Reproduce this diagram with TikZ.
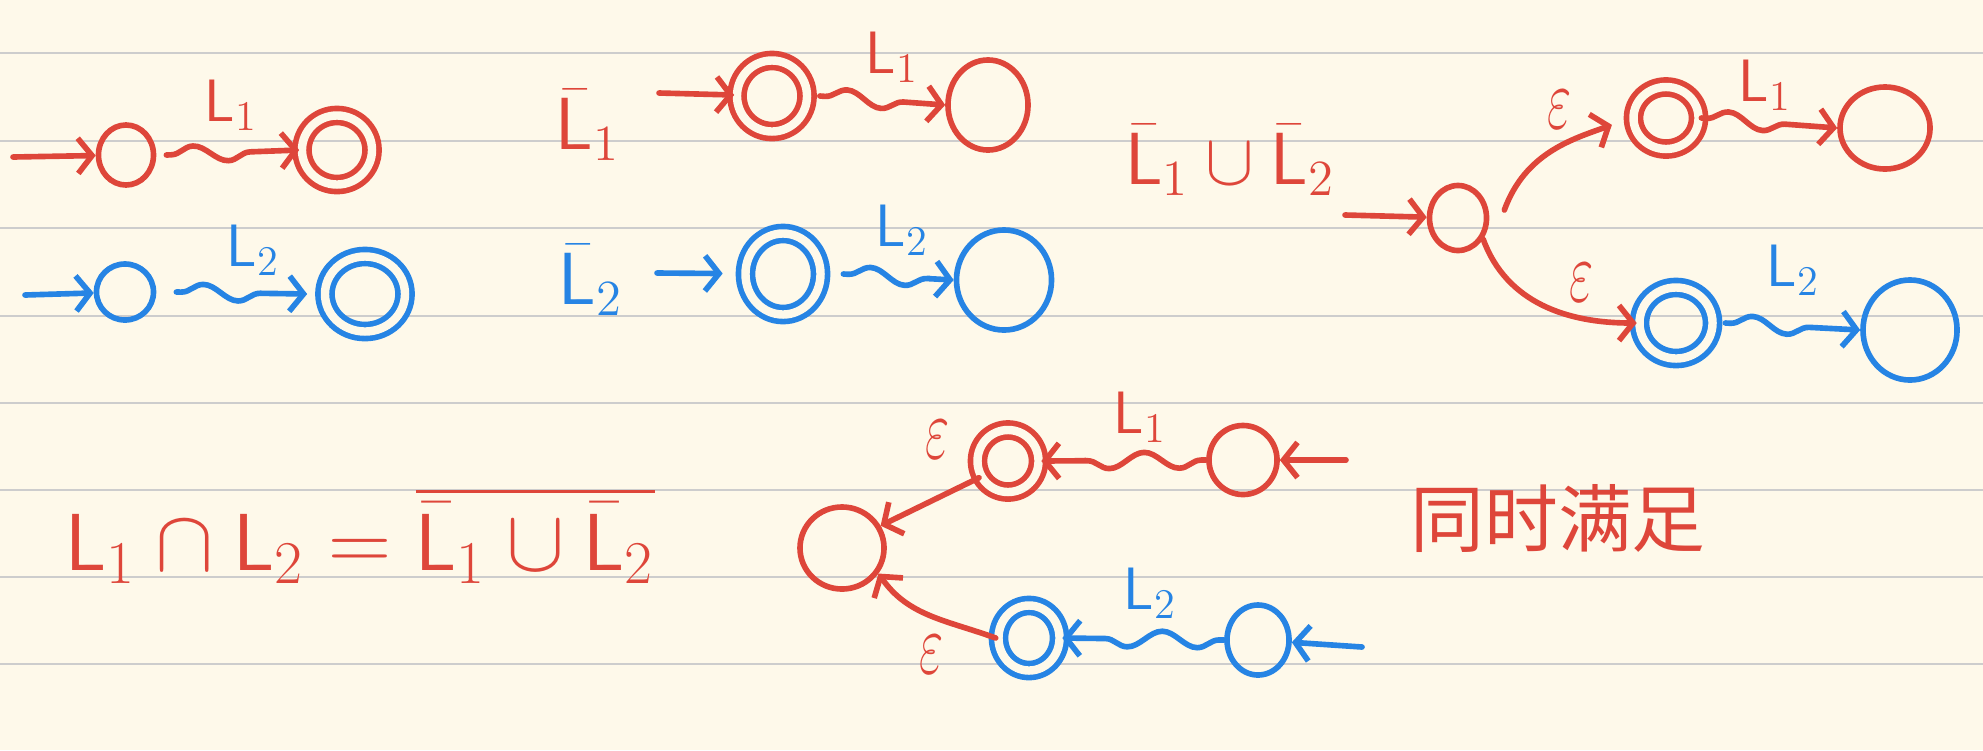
\documentclass[tikz,border=0pt]{standalone}
\usepackage{amsmath,amssymb}
\usepackage{fontspec}
\newfontfamily\cjkfont{Noto Sans CJK SC}
\usetikzlibrary{shapes.geometric,arrows.meta,decorations.pathmorphing,calc}
\definecolor{InkRed}{RGB}{222,70,58}
\definecolor{InkBlue}{RGB}{38,132,228}
\definecolor{Paper}{RGB}{254,249,234}
\definecolor{RuleGray}{RGB}{205,205,205}
\tikzset{
  st/.style={ellipse,draw,line width=1.6pt,inner sep=0pt},
  rst/.style={st,draw=InkRed},
  bst/.style={st,draw=InkBlue},
  acc/.style={double=Paper,double distance=2.4pt},
  ink/.style={line width=1.6pt,line cap=round,-{Straight Barb[length=4pt,width=10pt]}},
  rink/.style={ink,color=InkRed},
  bink/.style={ink,color=InkBlue},
  wavy/.style={decorate,decoration={snake,amplitude=0.8mm,segment length=7mm,
    pre length=0.5mm,post length=2mm}},
  lab/.style={inner sep=0pt,font=\fontsize{17}{20}\selectfont},
  biglab/.style={inner sep=0pt,font=\fontsize{21}{25}\selectfont},
  epslab/.style={inner sep=0pt,font=\fontsize{26}{30}\selectfont,text=InkRed}
}
\newcommand{\Lsf}{\mathsf{L}}
\newcommand{\epsmark}{\scalebox{0.6}[1]{$\varepsilon$}}

\begin{document}
\begin{tikzpicture}[x=0.01cm,y=0.01cm]
  \fill[Paper] (0,0) rectangle (1983,750);
  \useasboundingbox (0,0) rectangle (1983,750);
  \foreach \y in {697,609,522,434,347,260,173,86}
    \draw[RuleGray,line width=0.6pt] (0,\y) -- (1983,\y);

  % L1 and L2
  \coordinate (a1i) at (13,593);
  \node[rst,minimum width=0.55cm,minimum height=0.60cm] (a1s) at (126,595) {};
  \node[rst,acc,minimum width=0.70cm,minimum height=0.69cm] (a1f) at (337,600) {};
  \node[lab,text=InkRed] (a1l) at (231,645) {$\Lsf_1$};
  \draw[rink] (a1i) -- (a1s);
  \draw[rink,wavy] ([xshift=1mm]a1s.east) -- (a1f.west);

  \coordinate (b1i) at (25,455);
  \node[bst,minimum width=0.57cm,minimum height=0.56cm] (b1s) at (125,458) {};
  \node[bst,acc,minimum width=0.80cm,minimum height=0.75cm] (b1f) at (365,456) {};
  \node[lab,text=InkBlue] (b1l) at (253,500) {$\Lsf_2$};
  \draw[bink] (b1i) -- (b1s);
  \draw[bink,wavy] ([xshift=2mm]b1s.east) -- ([xshift=-1.5mm]b1f.west);

  % complements
  \node[biglab,text=InkRed] (c1n) at (588,625) {$\bar{\Lsf}_1$};
  \coordinate (c1i) at (659,657);
  \node[rst,acc,minimum width=0.70cm,minimum height=0.71cm] (c1s) at (772,654) {};
  \node[rst,minimum width=0.80cm,minimum height=0.90cm] (c1t) at (988,645) {};
  \node[lab,text=InkRed] (c1l) at (892,693) {$\Lsf_1$};
  \draw[rink] (c1i) -- (c1s);
  \draw[rink,wavy] ([xshift=1mm]c1s.east) -- (c1t.west);

  \node[biglab,text=InkBlue] (c2n) at (591,470) {$\bar{\Lsf}_2$};
  \coordinate (c2i) at (657,477);
  \node[bst,acc,minimum width=0.75cm,minimum height=0.81cm] (c2s) at (783,476) {};
  \node[bst,minimum width=0.95cm,minimum height=1.00cm] (c2t) at (1004,470) {};
  \node[lab,text=InkBlue] (c2l) at (902,520) {$\Lsf_2$};
  \draw[bink,shorten >=2mm] (c2i) -- (c2s);
  \draw[bink,wavy] ([xshift=2mm]c2s.east) -- (c2t.west);

  % union of complements
  \node[biglab,text=InkRed] (dn) at (1230,590) {$\bar{\Lsf}_1\cup\bar{\Lsf}_2$};
  \coordinate (d0i) at (1345,535);
  \node[rst,minimum width=0.57cm,minimum height=0.65cm] (d0) at (1458,532) {};
  \node[rst,acc,minimum width=0.65cm,minimum height=0.62cm] (d1) at (1666,632) {};
  \node[rst,minimum width=0.90cm,minimum height=0.82cm] (d1t) at (1885,622) {};
  \node[bst,acc,minimum width=0.73cm,minimum height=0.71cm] (d2) at (1676,427) {};
  \node[bst,minimum width=0.94cm,minimum height=1.00cm] (d2t) at (1910,420) {};
  \node[epslab] (d1e) at (1559,640) {\epsmark};
  \node[epslab] (d2e) at (1581,467) {\epsmark};
  \node[lab,text=InkRed] (d1l) at (1765,665) {$\Lsf_1$};
  \node[lab,text=InkBlue] (d2l) at (1793,480) {$\Lsf_2$};
  \draw[rink] (d0i) -- (d0);
  \draw[rink,shorten >=2mm] ($(d0.east)+(15,8)$) to[out=70,in=200] (d1.west);
  \draw[rink] (d0.-40) to[out=-70,in=180] (d2.west);
  \draw[rink,wavy] (d1.east) -- (d1t.west);
  \draw[bink,wavy] ([xshift=1mm]d2.east) -- (d2t.west);

  % intersection
  \node[inner sep=0pt,text=InkRed,font=\fontsize{23}{28}\selectfont] (eq) at (360,215)
    {$\Lsf_1\cap\Lsf_2=\overline{\bar{\Lsf}_1\cup\bar{\Lsf}_2}$};
  \node[rst,minimum width=0.84cm,minimum height=0.82cm] (e0) at (842,202) {};
  \node[rst,acc,minimum width=0.61cm,minimum height=0.62cm] (e1) at (1008,289) {};
  \node[rst,minimum width=0.68cm,minimum height=0.69cm] (e1t) at (1243,290) {};
  \node[bst,acc,minimum width=0.61cm,minimum height=0.65cm] (e2) at (1029,112) {};
  \node[bst,minimum width=0.62cm,minimum height=0.70cm] (e2t) at (1258,110) {};
  \coordinate (e1i) at (1346,290);
  \coordinate (e2i) at (1362,103);
  \node[lab,text=InkRed] (e1l) at (1140,333) {$\Lsf_1$};
  \node[lab,text=InkBlue] (e2l) at (1150,157) {$\Lsf_2$};
  \node[epslab] (e1e) at (938,310) {\epsmark};
  \node[epslab] (e2e) at (932,95) {\epsmark};
  \draw[rink] (e1i) -- (e1t);
  \draw[bink] (e2i) -- (e2t);
  \draw[rink,wavy] (e1t.west) -- (e1.east);
  \draw[bink,wavy] (e2t.west) -- (e2.east);
  \draw[rink] (e1.210) -- (e0.30);
  \draw[rink] (e2.west) to[out=160,in=-55] (e0.-35);
  \node[text=InkRed,inner sep=0pt,font=\cjkfont\fontsize{21}{25}\selectfont] (note) at (1558,232) {同时满足};
\end{tikzpicture}
\end{document}
